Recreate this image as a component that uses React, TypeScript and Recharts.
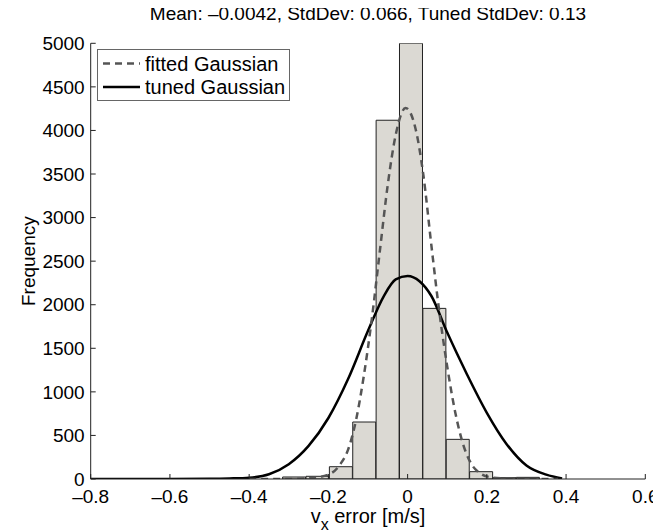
import { ComposedChart, Bar, Line, XAxis, YAxis, Label } from 'recharts';

// histogram bins (bin centre, count)
const binCenters = [-0.286, -0.227, -0.168, -0.109, -0.05, 0.009, 0.068, 0.127, 0.186, 0.245, 0.304];
const binCounts = [23, 31, 141, 654, 4117, 5000, 1958, 455, 84, 15, 19];

// fitted Gaussian (dashed)
const fittedX = [-0.4, -0.3, -0.25, -0.2, -0.17, -0.15, -0.13, -0.11, -0.09, -0.07, -0.05, -0.03, -0.005, 0.02, 0.04, 0.06, 0.08, 0.1, 0.12, 0.14, 0.16, 0.18, 0.21, 0.26, 0.3, 0.38];
const fittedY = [0, 1, 8, 50, 170, 340, 680, 1200, 1850, 2620, 3380, 3950, 4258, 4020, 3480, 2680, 1920, 1290, 770, 400, 180, 75, 20, 3, 0, 0];

// tuned Gaussian (solid)
const tunedX = [-0.8, -0.7, -0.6, -0.5, -0.45, -0.4, -0.35, -0.3, -0.25, -0.2, -0.15, -0.1, -0.06, -0.03, 0, 0.03, 0.06, 0.1, 0.15, 0.2, 0.25, 0.3, 0.35, 0.39];
const tunedY = [0, 0, 0, 2, 6, 15, 55, 170, 380, 700, 1150, 1700, 2100, 2290, 2330, 2270, 2100, 1680, 1200, 760, 400, 155, 50, 6];

const xTicks = [-0.8, -0.6, -0.4, -0.2, 0, 0.2, 0.4, 0.6];
const yTicks = [0, 500, 1000, 1500, 2000, 2500, 3000, 3500, 4000, 4500, 5000];

const title = 'Mean: \u20130.0042, StdDev: 0.066, Tuned StdDev: 0.13';
const legendLabels = ['fitted Gaussian', 'tuned Gaussian'];

const bins = binCenters.map((c, i) => ({ center: c, count: binCounts[i] }));
const fitted = fittedX.map((x, i) => ({ x, y: fittedY[i] }));
const tuned = tunedX.map((x, i) => ({ x, y: tunedY[i] }));

const FONT = '"Liberation Sans", Arial, Helvetica, sans-serif';

const fmtX = (v: number) => (v === 0 ? '0' : v.toFixed(1).replace('-', '\u2013'));

function LegendBox() {
  return (
    <svg width={194} height={53} style={{ display: 'block' }}>
      <rect x={0.5} y={0.5} width={192} height={51} fill="#fff" stroke="#666" strokeWidth={1} />
      <line x1={6} y1={14.5} x2={43} y2={14.5} stroke="#555" strokeWidth={2.5} strokeDasharray="7 5" />
      <text x={48} y={21.5} fontSize={20} fontFamily={FONT} fill="#000">{legendLabels[0]}</text>
      <line x1={6} y1={38} x2={43} y2={38} stroke="#000" strokeWidth={2.5} />
      <text x={48} y={45} fontSize={20} fontFamily={FONT} fill="#000">{legendLabels[1]}</text>
    </svg>
  );
}

export default function App() {
  return (
    <div style={{ position: 'relative', width: 645, height: 524, background: '#fff', fontFamily: FONT }}>
      <ComposedChart
        width={653}
        height={524}
        data={bins}
        margin={{ top: 35.3, right: 15.7, left: 0, bottom: 0 }}
        barCategoryGap={0}
        barGap={0}
      >
        <XAxis
          xAxisId="main"
          type="number"
          dataKey="x"
          domain={[-0.8, 0.6]}
          ticks={xTicks}
          interval={0}
          allowDataOverflow
          tickFormatter={fmtX}
          tickSize={-5}
          tickMargin={16}
          height={53}
          stroke="#222"
          tick={{ fill: '#000', fontSize: 19, fontFamily: FONT }}
        >
          <Label
            content={({ viewBox }: any) => {
              const cx = viewBox.x + viewBox.width / 2;
              return (
                <text x={cx} y={515} textAnchor="middle" fontSize={20} fontFamily={FONT} fill="#000">
                  <tspan>v</tspan>
                  <tspan dy={7} fontSize={16}>x</tspan>
                  <tspan dy={-7}> error [m/s]</tspan>
                </text>
              );
            }}
          />
        </XAxis>
        <XAxis
          xAxisId="bins"
          type="number"
          dataKey="center"
          domain={[-0.8, 0.6]}
          allowDataOverflow
          hide
          height={0}
        />
        <YAxis
          type="number"
          domain={[0, 5000]}
          ticks={yTicks}
          interval={0}
          allowDataOverflow
          width={82.7}
          tickSize={-5}
          tickMargin={11}
          stroke="#222"
          tick={{ fill: '#000', fontSize: 19, fontFamily: FONT }}
        >
          <Label
            content={({ viewBox }: any) => {
              const cx = 27.5;
              const cy = viewBox.y + viewBox.height / 2;
              return (
                <text
                  x={cx}
                  y={cy}
                  transform={`rotate(-90, ${cx}, ${cy})`}
                  textAnchor="middle"
                  fontSize={19}
                  fontFamily={FONT}
                  fill="#000"
                >
                  Frequency
                </text>
              );
            }}
          />
        </YAxis>
        <Bar
          xAxisId="bins"
          dataKey="count"
          fill="#dbd9d3"
          stroke="#222"
          strokeWidth={1}
          isAnimationActive={false}
        />
        <Line
          xAxisId="main"
          data={tuned}
          dataKey="y"
          type="monotone"
          stroke="#000"
          strokeWidth={2.5}
          dot={false}
          activeDot={false}
          isAnimationActive={false}
        />
        <Line
          xAxisId="main"
          data={fitted}
          dataKey="y"
          type="monotone"
          stroke="#555"
          strokeWidth={2.5}
          strokeDasharray="7 5"
          dot={false}
          activeDot={false}
          isAnimationActive={false}
        />
      </ComposedChart>
      <div
        style={{
          position: 'absolute',
          left: 82.7,
          width: 554.6,
          top: -3,
          lineHeight: '18px',
          fontSize: 19,
          textAlign: 'center',
          color: '#000',
          whiteSpace: 'nowrap',
          zIndex: 2,
        }}
      >
        {title}
      </div>
      <div style={{ position: 'absolute', left: 88.7, top: 41, zIndex: 2 }}>
        <LegendBox />
      </div>
    </div>
  );
}
